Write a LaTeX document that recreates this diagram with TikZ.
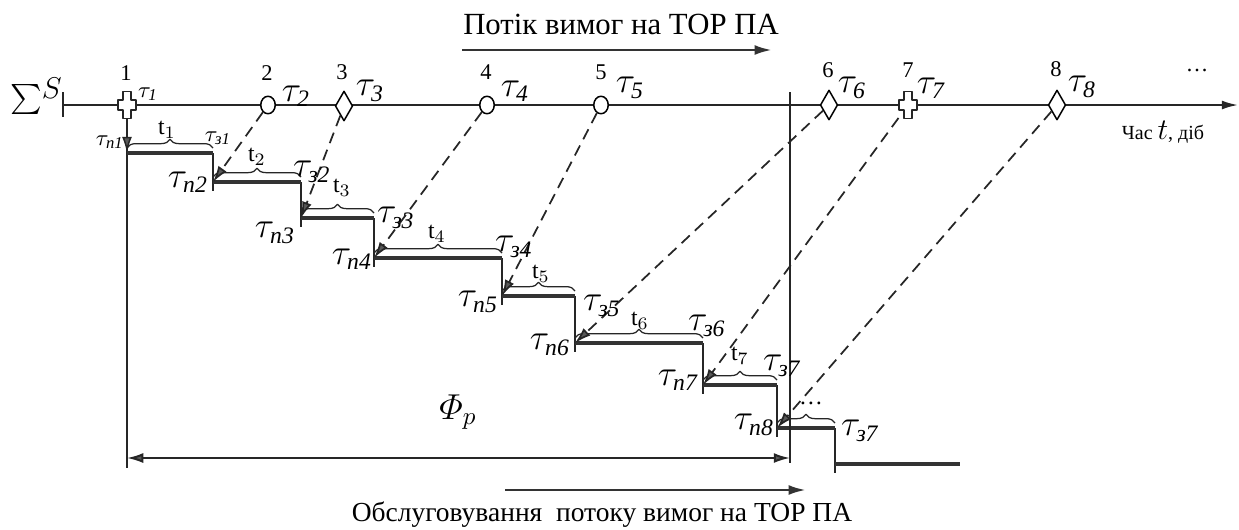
\documentclass[tikz,border=0pt]{standalone}
\usepackage{amsmath,amssymb}
\usepackage{fontspec}
\setmainfont{Liberation Serif}
\usepackage{tikz}
\usetikzlibrary{arrows.meta,calc,shapes.geometric,decorations.pathreplacing}

\newcommand{\tauP}[1]{$\tau_{\textit{п#1}}$}
\newcommand{\tauZ}[1]{$\tau_{\textit{з#1}}$}
\newcommand{\plusmark}[1]{\draw[thinln,fill=white] (#1) ++(-1.6pt,5.4pt) -- ++(3.2pt,0pt) -- ++(0pt,-3.4pt) -- ++(2pt,0pt) -- ++(0pt,-4pt) -- ++(-2pt,0pt) -- ++(0pt,-3.4pt) -- ++(-3.2pt,0pt) -- ++(0pt,3.4pt) -- ++(-2pt,0pt) -- ++(0pt,4pt) -- ++(2pt,0pt) -- cycle;}

\begin{document}
\begin{tikzpicture}[x=0.4pt,y=-0.4pt,line join=round,
  thinln/.style={line width=0.6pt,black!85},
  stepbar/.style={line width=1.9pt,black!80},
  tipgray/.style={-{Latex[length=6.5pt,width=4pt,fill=black!65]}},
  dashconn/.style={line width=0.7pt,black!85,dash pattern=on 4.5pt off 2.8pt,tipgray},
  plusnode/.style={rectangle,inner sep=0pt,minimum width=7.2pt,minimum height=10.8pt},
  evcirc/.style={ellipse,draw,fill=white,line width=0.6pt,inner sep=0pt,minimum width=5.8pt,minimum height=7pt},
  evdiam/.style={diamond,draw,fill=white,line width=0.6pt,inner sep=0pt,minimum width=7pt,minimum height=12pt},
  stepbrace/.style={decorate,decoration={brace,amplitude=3.5pt},line width=0.5pt,black!85},
  lblbig/.style={font=\fontsize{13.5}{14}\selectfont,inner sep=0pt},
  lblsmall/.style={font=\fontsize{9.5}{10}\selectfont,inner sep=0pt},
  lblnum/.style={font=\fontsize{9}{10}\selectfont,inner sep=0pt},
  lbldur/.style={font=\fontsize{9.5}{10}\selectfont,inner sep=0pt},
  titletxt/.style={font=\fontsize{12.3}{14}\selectfont,inner sep=0pt},
  flowarrow/.style={line width=1.1pt,black!80,-{Latex[length=7pt,width=4pt]}}]
  \useasboundingbox (0,0) rectangle (1239,529);
  % time axis
  \coordinate (AX0) at (63,105);
  \coordinate (AX1) at (1238,105);
  \coordinate (AXT) at (63,92);
  \coordinate (AXB) at (63,117);
  \draw[line width=0.8pt,black!85,-{Latex[length=6.5pt,width=3.6pt]}] (AX0) -- (AX1);
  \draw[thinln] (AXT) -- (AXB);
  % requests on the axis
  \node[plusnode] (E1) at (127,105) {};
  \node[evcirc] (E2) at (268,105) {};
  \node[evdiam] (E3) at (344,106) {};
  \node[evcirc] (E4) at (487,105) {};
  \node[evcirc] (E5) at (601,105) {};
  \node[evdiam] (E6) at (829,105) {};
  \node[plusnode] (E7) at (908,105) {};
  \node[evdiam] (E8) at (1057,105) {};
  \plusmark{E1}
  \plusmark{E7}
  % service staircase
  \coordinate (S1) at (127,153);
  \coordinate (F1) at (213,153);
  \coordinate (S2) at (213,182);
  \coordinate (F2) at (301,182);
  \coordinate (S3) at (301,218);
  \coordinate (F3) at (374,218);
  \coordinate (S4) at (374,258);
  \coordinate (F4) at (502,258);
  \coordinate (S5) at (502,296);
  \coordinate (F5) at (575,296);
  \coordinate (S6) at (575,343);
  \coordinate (F6) at (703,343);
  \coordinate (S7) at (703,385);
  \coordinate (F7) at (777,385);
  \coordinate (S8) at (777,428);
  \coordinate (F8) at (835,428);
  \coordinate (S9) at (835,464);
  \coordinate (F9) at (960,464);
  \coordinate (LB) at (127,468);
  \draw[thinln] (E1) -- (LB);
  \draw[thinln,tipgray] (E1) -- (S1);
  \draw[thinln] (F1) -- ($(S2)+(0,9)$);
  \draw[thinln] (F2) -- ($(S3)+(0,9)$);
  \draw[thinln] (F3) -- ($(S4)+(0,9)$);
  \draw[thinln] (F4) -- ($(S5)+(0,9)$);
  \draw[thinln] (F5) -- ($(S6)+(0,9)$);
  \draw[thinln] (F6) -- ($(S7)+(0,9)$);
  \draw[thinln] (F7) -- ($(S8)+(0,9)$);
  \draw[thinln] (F8) -- ($(S9)+(0,9)$);
  \draw[stepbar] (S1) -- (F1);
  \draw[stepbar] (S2) -- (F2);
  \draw[stepbar] (S3) -- (F3);
  \draw[stepbar] (S4) -- (F4);
  \draw[stepbar] (S5) -- (F5);
  \draw[stepbar] (S6) -- (F6);
  \draw[stepbar] (S7) -- (F7);
  \draw[stepbar] (S8) -- (F8);
  \draw[stepbar] (S9) -- (F9);
  \draw[stepbrace] ($(S1)+(0,-5)$) -- ($(F1)+(0,-5)$);
  \draw[stepbrace] ($(S2)+(0,-5)$) -- ($(F2)+(0,-5)$);
  \draw[stepbrace] ($(S3)+(0,-5)$) -- ($(F3)+(0,-5)$);
  \draw[stepbrace] ($(S4)+(0,-5)$) -- ($(F4)+(0,-5)$);
  \draw[stepbrace] ($(S5)+(0,-5)$) -- ($(F5)+(0,-5)$);
  \draw[stepbrace] ($(S6)+(0,-5)$) -- ($(F6)+(0,-5)$);
  \draw[stepbrace] ($(S7)+(0,-5)$) -- ($(F7)+(0,-5)$);
  \draw[stepbrace] ($(S8)+(0,-5)$) -- ($(F8)+(0,-5)$);
  % requests go to service
  \draw[dashconn] (E2) -- (S2);
  \draw[dashconn] (E3) -- (S3);
  \draw[dashconn] (E4) -- (S4);
  \draw[dashconn] (E5) -- (S5);
  \draw[dashconn] (E6) -- (S6);
  \draw[dashconn] (E7) -- (S7);
  \draw[dashconn] (E8) -- (S8);
  % planning horizon
  \coordinate (VT) at (790,92);
  \coordinate (VB) at (790,463);
  \coordinate (PL) at (127,458);
  \coordinate (PR) at (790,458);
  \draw[thinln] (VT) -- (VB);
  \draw[line width=0.8pt,black!85,{Latex[length=6.5pt,width=4pt,fill=black!65]}-{Latex[length=6.5pt,width=4pt,fill=black!65]}] (PL) -- (PR);
  % flow arrows
  \coordinate (FT0) at (462,50);
  \coordinate (FT1) at (772,50);
  \coordinate (FB0) at (505,490);
  \coordinate (FB1) at (806,490);
  \draw[flowarrow] (FT0) -- (FT1);
  \draw[flowarrow] (FB0) -- (FB1);
  % texts
  \node[titletxt] (TTop) at (621,24) {Потік вимог на ТОР ПА};
  \node[titletxt,font=\fontsize{11}{13}\selectfont] (TBot) at (602,515) {Обслуговування~ потоку вимог на ТОР ПА};
  \node[inner sep=0pt] (SUM) at (36,96) {{\fontsize{12}{12}\selectfont$\sum$}\raisebox{0.35em}{\fontsize{13}{13}\selectfont$S$}};
  \node[inner sep=0pt] (TIME) at (1163,132) {\fontsize{8}{9}\selectfont Час {\fontsize{13}{13}\selectfont$t$}, діб};
  \node[lblnum] (N1) at (126,73) {1};
  \node[lblnum] (N2) at (267,73) {2};
  \node[lblnum] (N3) at (342,72) {3};
  \node[lblnum] (N4) at (486,72) {4};
  \node[lblnum] (N5) at (601,72) {5};
  \node[lblnum] (N6) at (828,70) {6};
  \node[lblnum] (N7) at (908,70) {7};
  \node[lblnum] (N8) at (1056,69) {8};
  \node[lblnum] (NDOTS) at (1197,70) {\dots};
  \node[lblsmall] (T1) at (148,94) {$\tau_{\textit{1}}$};
  \node[lblbig] (T2) at (296,96) {$\tau_{\textit{2}}$};
  \node[lblbig] (T3) at (370,91) {$\tau_{\textit{3}}$};
  \node[lblbig] (T4) at (515,91) {$\tau_{\textit{4}}$};
  \node[lblbig] (T5) at (630,88) {$\tau_{\textit{5}}$};
  \node[lblbig] (T6) at (852,88) {$\tau_{\textit{6}}$};
  \node[lblbig] (T7) at (931,88) {$\tau_{\textit{7}}$};
  \node[lblbig] (T8) at (1082,87) {$\tau_{\textit{8}}$};
  \node[lblsmall] (PN1) at (110,142) {\tauP{1}};
  \node[lblbig] (PN2) at (188,182) {\tauP{2}};
  \node[lblbig] (PN3) at (275,233) {\tauP{3}};
  \node[lblbig] (PN4) at (352,259) {\tauP{4}};
  \node[lblbig] (PN5) at (478,302) {\tauP{5}};
  \node[lblbig] (PN6) at (550,345) {\tauP{6}};
  \node[lblbig] (PN7) at (678,380) {\tauP{7}};
  \node[lblbig] (PN8) at (754,425) {\tauP{8}};
  \node[lblsmall] (PZ1) at (218,138) {\tauZ{1}};
  \node[lblbig] (PZ2) at (312,172) {\tauZ{2}};
  \node[lblbig] (PZ3) at (396,218) {\tauZ{3}};
  \node[lblbig] (PZ4) at (514,247) {\tauZ{4}};
  \node[lblbig] (PZ5) at (602,306) {\tauZ{5}};
  \node[lblbig] (PZ6) at (707,326) {\tauZ{6}};
  \node[lblbig] (PZ7) at (782,366) {\tauZ{7}};
  \node[lblbig] (PZ8) at (860,431) {\tauZ{7}};
  \node[lbldur] (D1) at (167,130) {t$_1$};
  \node[lbldur] (D2) at (257,157) {t$_2$};
  \node[lbldur] (D3) at (342,188) {t$_3$};
  \node[lbldur] (D4) at (437,234) {t$_4$};
  \node[lbldur] (D5) at (541,274) {t$_5$};
  \node[lbldur] (D6) at (640,321) {t$_6$};
  \node[lbldur] (D7) at (740,356) {t$_7$};
  \node[lbldur] (D8) at (811,403) {\dots};
  \node[inner sep=0pt] (PHI) at (458,412) {\fontsize{14}{14}\selectfont$\varPhi_p$};
\end{tikzpicture}
\end{document}
